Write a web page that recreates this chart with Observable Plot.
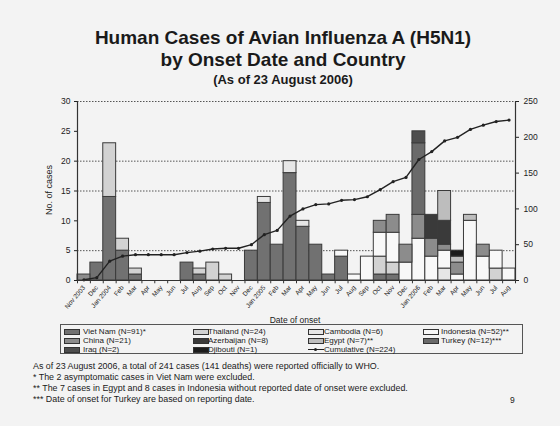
<!DOCTYPE html>
<html><head><meta charset="utf-8">
<script src="https://cdn.jsdelivr.net/npm/d3@7"></script>
<script src="https://cdn.jsdelivr.net/npm/@observablehq/plot@0.6"></script>
<style>
html,body{margin:0;padding:0;}
#page{position:relative;width:560px;height:426px;background:#f3f3f3;font-family:"Liberation Sans",Arial,sans-serif;color:#1a1a1a;overflow:hidden;}
#title{position:absolute;top:27px;left:6px;width:554px;text-align:center;font-weight:bold;}
#title .t1{font-size:19px;line-height:22px;}
#title .t3{font-size:13px;line-height:18px;}
#chart{position:absolute;top:92px;left:0;}
#ylab{position:absolute;left:49px;top:190px;transform:translate(-50%,-50%) rotate(-90deg);font-size:9px;white-space:nowrap;}
#xlab{position:absolute;left:295px;top:320px;transform:translate(-50%,-50%);font-size:8.5px;white-space:nowrap;}
#legend{position:absolute;left:60px;top:324px;width:461px;height:28px;border:1.5px solid #555;}
.li{position:absolute;font-size:8px;line-height:9px;white-space:nowrap;}
.sw{position:absolute;width:14px;height:4px;border:1px solid #333;}
#notes{position:absolute;left:33px;top:361px;font-size:8.9px;line-height:11px;white-space:nowrap;}
#pg{position:absolute;left:510px;top:395px;font-size:8.5px;}
</style></head>
<body><div id="page">
<div id="title"><div class="t1">Human Cases of Avian Influenza A (H5N1)</div><div class="t1">by Onset Date and Country</div><div class="t3">(As of 23 August 2006)</div></div>
<div id="chart"></div>
<div id="ylab">No. of cases</div>
<div id="xlab">Date of onset</div>
<div id="legend"></div>
<div id="notes">As of 23 August 2006, a total of 241 cases (141 deaths) were reported officially to WHO.<br>* The 2 asymptomatic cases in Viet Nam were excluded.<br>** The 7 cases in Egypt and 8 cases in Indonesia without reported date of onset were excluded.<br>*** Date of onset for Turkey are based on reporting date.</div>
<div id="pg">9</div>
</div>
<script>
const monthLabels = ["Nov 2003","Dec","Jan 2004","Feb","Mar","Apr","May","Jun","Jul","Aug","Sep","Oct","Nov","Dec","Jan 2005","Feb","Mar","Apr","May","Jun","Jul","Aug","Sep","Oct","Nov","Dec","Jan 2006","Feb","Mar","Apr","May","Jun","Jul","Aug"];
const countries = ["Viet Nam","Thailand","Cambodia","Indonesia","China","Azerbaijan","Egypt","Turkey","Iraq","Djibouti"];
const legendLabels = ["Viet Nam (N=91)*","Thailand (N=24)","Cambodia (N=6)","Indonesia (N=52)**","China (N=21)","Azerbaijan (N=8)","Egypt (N=7)**","Turkey (N=12)***","Iraq (N=2)","Djibouti (N=1)"];
const cumulativeLabel = "Cumulative (N=224)";
const colors = ["#717171","#d2d2d2","#e6e6e6","#f8f8f8","#8c8c8c","#3a3a3a","#bdbdbd","#6a6a6a","#4e4e4e","#1c1c1c"];
//                 N  D  J   F  M  A  M  J  J  A  S  O  N  D  J   F  M   A  M  J  J  A  S  O  N  D  J   F  M  A  M   J  J  A
const vietNam   = [0, 3,14, 5, 1, 0, 0, 0, 3, 1, 0, 0, 0, 5,13, 6,18, 9, 6, 1, 4, 0, 0, 1, 1, 0, 0, 0, 0, 0, 0, 0, 0, 0];
const thailand  = [0, 0, 9, 2, 1, 0, 0, 0, 0, 1, 3, 1, 0, 0, 0, 0, 0, 0, 0, 0, 0, 0, 0, 3, 2, 0, 0, 0, 0, 0, 0, 0, 2, 0];
const cambodia  = [0, 0, 0, 0, 0, 0, 0, 0, 0, 0, 0, 0, 0, 0, 1, 0, 2, 1, 0, 0, 0, 0, 0, 0, 0, 0, 0, 0, 2, 0, 0, 0, 0, 0];
const indonesia = [0, 0, 0, 0, 0, 0, 0, 0, 0, 0, 0, 0, 0, 0, 0, 0, 0, 0, 0, 0, 1, 1, 4, 4, 5, 3, 7, 4, 3, 1,10, 4, 3, 2];
const china     = [1, 0, 0, 0, 0, 0, 0, 0, 0, 0, 0, 0, 0, 0, 0, 0, 0, 0, 0, 0, 0, 0, 0, 2, 3, 3, 4, 3, 1, 2, 0, 2, 0, 0];
const azerbaijan= [0, 0, 0, 0, 0, 0, 0, 0, 0, 0, 0, 0, 0, 0, 0, 0, 0, 0, 0, 0, 0, 0, 0, 0, 0, 0, 0, 4, 4, 0, 0, 0, 0, 0];
const egypt     = [0, 0, 0, 0, 0, 0, 0, 0, 0, 0, 0, 0, 0, 0, 0, 0, 0, 0, 0, 0, 0, 0, 0, 0, 0, 0, 0, 0, 5, 1, 1, 0, 0, 0];
const turkey    = [0, 0, 0, 0, 0, 0, 0, 0, 0, 0, 0, 0, 0, 0, 0, 0, 0, 0, 0, 0, 0, 0, 0, 0, 0, 0,12, 0, 0, 0, 0, 0, 0, 0];
const iraq      = [0, 0, 0, 0, 0, 0, 0, 0, 0, 0, 0, 0, 0, 0, 0, 0, 0, 0, 0, 0, 0, 0, 0, 0, 0, 0, 2, 0, 0, 0, 0, 0, 0, 0];
const djibouti  = [0, 0, 0, 0, 0, 0, 0, 0, 0, 0, 0, 0, 0, 0, 0, 0, 0, 0, 0, 0, 0, 0, 0, 0, 0, 0, 0, 0, 0, 1, 0, 0, 0, 0];
const leftTicks = [0,5,10,15,20,25,30];
const rightTicks = [0,50,100,150,200,250];
const gridValues = [5,15,20,30];

const series = [vietNam,thailand,cambodia,indonesia,china,azerbaijan,egypt,turkey,iraq,djibouti];
const rows = [];
series.forEach((arr,ci)=>arr.forEach((v,m)=>{ if(v>0) rows.push({month:m,country:countries[ci],cases:v}); }));
const totals = monthLabels.map((_,m)=>d3.sum(series,s=>s[m]));
const cum = Array.from(d3.cumsum(totals));
const cumRows = cum.map((c,m)=>({month:m,cum:c}));
const yMax = 30, rMax = 250;
const toLeft = v => v*yMax/rMax;

const W=560, mL=77, mR=45;
const bw = (W-mL-mR)/monthLabels.length;

const chart = Plot.plot({
  width: W, height: 232,
  marginTop: 9, marginLeft: mL, marginRight: mR, marginBottom: 44,
  style: {background:"transparent", fontFamily:"Liberation Sans, Arial, sans-serif", fontSize:"8px", color:"#222", overflow:"visible"},
  x: {type:"band", domain: d3.range(monthLabels.length), padding:0},
  y: {domain:[0,yMax]},
  color: {domain: countries, range: colors},
  marks: [
    Plot.ruleY(gridValues, {stroke:"#555", strokeDasharray:"1.5,1.5", strokeWidth:1}),
    Plot.barY(rows, {x:"month", y:"cases", fill:"country", order: countries, stroke:"#3a3a3a", strokeWidth:1}),
    Plot.line(cumRows, {x:"month", y: d=>toLeft(d.cum), stroke:"#222", strokeWidth:1.4}),
    Plot.dot(cumRows, {x:"month", y: d=>toLeft(d.cum), r:1.6, fill:"#222", stroke:null}),
    Plot.ruleY([0], {stroke:"#333", strokeWidth:1.2}),
    Plot.ruleX([0], {x:d=>d, dx:-bw/2, stroke:"#333", strokeWidth:1.2}),
    Plot.ruleX([monthLabels.length-1], {x:d=>d, dx:bw/2, stroke:"#333", strokeWidth:1.2}),
    Plot.ruleX(d3.range(monthLabels.length), {x:d=>d, dx:-bw/2, y1:0, y2:-0.55, stroke:"#333"}),
    Plot.ruleX([monthLabels.length-1], {x:d=>d, dx:bw/2, y1:0, y2:-0.55, stroke:"#333"}),
    Plot.axisY({ticks:leftTicks, tickSize:3, tickPadding:4, label:null, fontSize:8.5}),
    Plot.axisY({anchor:"right", ticks:rightTicks.map(toLeft), tickFormat:v=>String(Math.round(v*rMax/yMax)), tickSize:3, tickPadding:5, label:null, fontSize:8.5}),
    Plot.axisX({tickSize:0, tickRotate:-50, tickPadding:6, tickFormat:i=>monthLabels[i], label:null, fontSize:6.5})
  ]
});
document.getElementById("chart").appendChild(chart);

// legend
const leg = document.getElementById("legend");
const colSw = [3,132,247,362], colTx = [22,147,263,380];
const rowTop = [2,11,20];
const items = legendLabels.map((l,i)=>({label:l, color:colors[i]}));
items.push({label:cumulativeLabel, line:true});
items.forEach((it,i)=>{
  const r = Math.floor(i/4), c = i%4;
  const sw = document.createElement("div");
  if(it.line){
    sw.style.cssText = `position:absolute;left:${colSw[c]}px;top:${rowTop[r]+4}px;width:16px;height:0;border-top:1.3px solid #222;`;
    const dot = document.createElement("div");
    dot.style.cssText = "position:absolute;left:6px;top:-2.2px;width:3px;height:3px;background:#222;border-radius:50%;";
    sw.appendChild(dot);
  } else {
    sw.className="sw";
    sw.style.left = colSw[c]+"px"; sw.style.top = (rowTop[r]+2)+"px"; sw.style.background = it.color;
  }
  leg.appendChild(sw);
  const t = document.createElement("div");
  t.className="li"; t.textContent = it.label;
  t.style.left = colTx[c]+"px"; t.style.top = rowTop[r]+"px";
  leg.appendChild(t);
});
</script>
</body></html>
